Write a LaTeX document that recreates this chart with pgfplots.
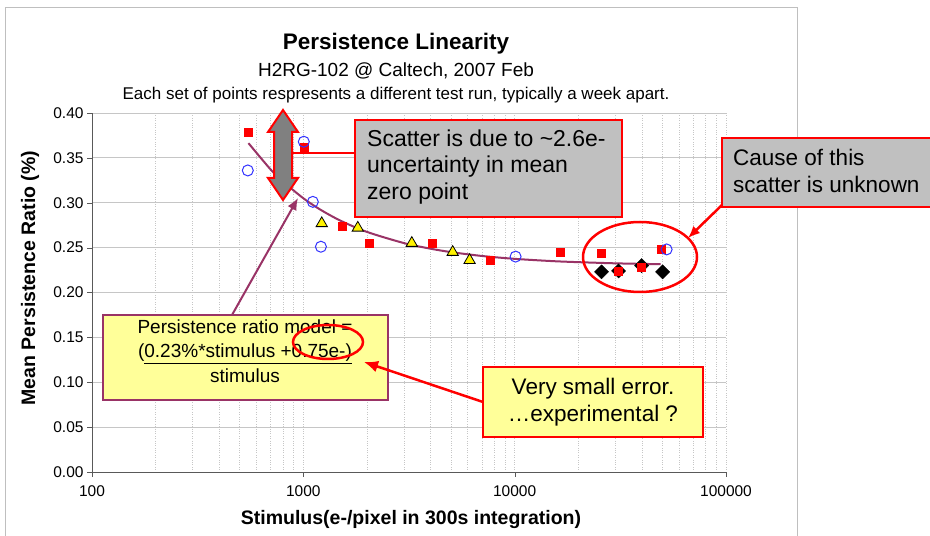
\documentclass[border=0pt]{standalone}
\usepackage{pgfplots}
\pgfplotsset{compat=1.18}
\usetikzlibrary{arrows.meta}
\usepackage{fontspec}
\setmainfont{Liberation Sans}
\definecolor{plum}{HTML}{993366}
\definecolor{boxgray}{HTML}{C0C0C0}
\definecolor{lightyellow}{HTML}{FFFF99}
\definecolor{markblue}{HTML}{3333FF}
\newcommand{\fs}[1]{\fontsize{#1bp}{1.2\dimexpr#1bp\relax}\selectfont}
\begin{document}
\begin{tikzpicture}
\useasboundingbox (0,0) rectangle (930bp,536bp);
\fill[white] (0,0) rectangle (930bp,536bp);
\draw[gray!50, line width=1bp] (5bp,-5bp) rectangle (797bp,528bp);

% titles
\node[font=\bfseries\fs{22.5}] at (396bp,492bp) {Persistence Linearity};
\node[font=\fs{19}] at (396bp,465bp) {H2RG-102 @ Caltech, 2007 Feb};
\node[font=\fs{17}] at (396bp,441bp) {Each set of points respresents a different test run, typically a week apart.};

\begin{axis}[
    at={(92bp,64bp)}, anchor=south west,
    scale only axis, width=634bp, height=359bp,
    xmode=log, xmin=100, xmax=100000, ymin=0, ymax=0.4,
    axis x line*=bottom, axis y line*=left,
    axis line style={gray!70!black, line width=1bp},
    xtick={100,1000,10000,100000},
    xticklabels={100,1000,10000,100000},
    ytick={0,0.05,0.1,0.15,0.2,0.25,0.3,0.35,0.4},
    yticklabel style={/pgf/number format/.cd, fixed, fixed zerofill, precision=2},
    xticklabel style={yshift=-5bp},
    /pgf/number format/assume math mode=true,
    ticklabel style={font=\fs{15.5}},
    tick align=outside, major tick length=5bp, minor tick length=0bp,
    tick style={gray!70!black},
    grid=both,
    every axis y grid/.style={gray!45, line width=0.8bp},
    every axis x grid/.style={gray!45, dotted, line width=0.7bp},
    clip=false,
]
% fitted model line
\addplot[plum, line width=2bp, smooth] coordinates {
    (550,0.3664) (700,0.3371) (800,0.3238) (1000,0.3050) (1200,0.2925)
    (1500,0.2800) (2000,0.2675) (3000,0.2550) (4000,0.2488) (5000,0.2450)
    (7000,0.2407) (10000,0.2375) (15000,0.2350) (20000,0.2338)
    (30000,0.2325) (40000,0.2319) (49000,0.2315)
};
% black diamonds
\addplot[only marks, mark=square*, mark size=5bp, mark options={rotate=45, fill=black, draw=black}] coordinates {
    (25760,0.223) (31020,0.224) (39860,0.230) (50100,0.223)
};
% yellow triangles
\addplot[only marks, mark=triangle*, mark size=6.5bp, mark options={fill=yellow, draw=black, line width=0.8bp}] coordinates {
    (1222,0.277) (1810,0.272) (3260,0.255) (5090,0.245) (6120,0.236)
};
% red squares
\addplot[only marks, mark=square*, mark size=4bp, mark options={fill=red, draw=red}] coordinates {
    (546,0.379) (1005,0.362) (1520,0.274) (2040,0.255) (4051,0.255)
    (7690,0.236) (16500,0.245) (25760,0.244) (31020,0.224) (39860,0.228)
    (49550,0.248)
};
% blue circles
\addplot[only marks, mark=o, mark size=5.5bp, mark options={draw=markblue, line width=1bp}] coordinates {
    (546,0.336) (1005,0.368) (1109,0.301) (1211,0.251) (10100,0.240) (52360,0.248)
};
\end{axis}

% axis labels
\node[font=\bfseries\fs{19.5}, rotate=90] at (30bp,258bp) {Mean Persistence Ratio (\%)};
\node[font=\bfseries\fs{19.5}] at (411bp,16bp) {Stimulus(e-/pixel in 300s integration)};

% gray double arrow
\filldraw[fill=gray, draw=red, line width=2bp, line join=miter]
    (283bp,426bp) -- (298bp,404bp) -- (292bp,404bp) -- (292bp,358bp) -- (298bp,358bp)
    -- (283bp,336bp) -- (268bp,358bp) -- (274bp,358bp) -- (274bp,404bp) -- (268bp,404bp) -- cycle;
\draw[red, line width=2bp] (293bp,383bp) -- (355bp,383bp);

% scatter box
\filldraw[fill=boxgray, draw=red, line width=2.5bp] (355bp,319bp) rectangle (622bp,416bp);
\node[anchor=west, align=left, inner sep=0pt, font={\fontsize{23bp}{26.5bp}\selectfont}] at (367bp,369bp)
    {Scatter is due to \textasciitilde2.6e-\\uncertainty in mean\\zero point};

% cause box
\filldraw[fill=boxgray, draw=red, line width=2.5bp] (722bp,329bp) rectangle (935bp,398bp);
\node[anchor=west, align=left, inner sep=0pt, font={\fontsize{22.5bp}{27bp}\selectfont}] at (733bp,365bp)
    {Cause of this\\scatter is unknown};
\draw[red, line width=2.5bp, -{Latex[length=12bp,width=10bp]}] (722bp,331bp) -- (688bp,298bp);

% ellipse round the diamonds
\draw[red, line width=2.5bp] (640bp,279bp) ellipse [x radius=57bp, y radius=35bp];

% model box
\filldraw[fill=lightyellow, draw=plum, line width=1.5bp] (103bp,136bp) rectangle (388bp,221bp);
\node[align=center, inner sep=0pt, font={\fontsize{19bp}{24.5bp}\selectfont}] at (245bp,185bp)
    {Persistence ratio model =\\(\underline{0.23\%*stimulus +0.75e-)}\\stimulus};
\draw[plum, line width=2bp, -{Latex[length=12bp,width=10bp]}] (232bp,221bp) -- (298bp,338bp);
\draw[red, line width=2.5bp] (328bp,194bp) ellipse [x radius=35bp, y radius=17bp];

% small error box
\filldraw[fill=lightyellow, draw=red, line width=2.5bp] (483bp,99bp) rectangle (703bp,169bp);
\node[align=center, inner sep=0pt, font={\fontsize{22.5bp}{27bp}\selectfont}] at (593bp,134bp)
    {Very small error.\\\ldots experimental ?};
\draw[red, line width=2.5bp, -{Latex[length=14bp,width=12bp]}] (483bp,134bp) -- (364bp,174bp);
\end{tikzpicture}
\end{document}
